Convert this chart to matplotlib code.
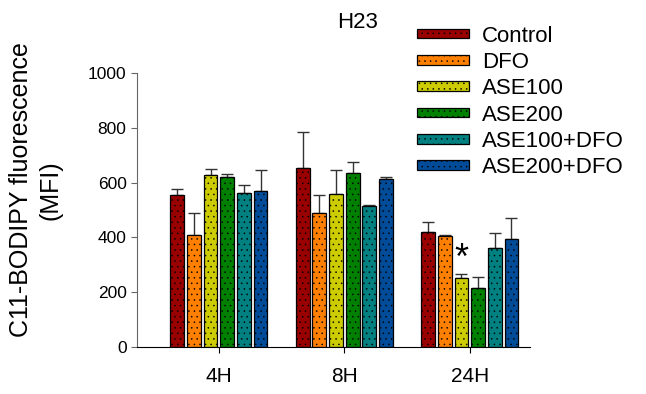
import numpy as np
import matplotlib
matplotlib.use("Agg")
import matplotlib.pyplot as plt

plt.rcParams['font.family'] = ['Liberation Sans', 'DejaVu Sans']
plt.rcParams['hatch.linewidth'] = 0.35

timepoints = ["4H", "8H", "24H"]
groups = ["Control", "DFO", "ASE100", "ASE200", "ASE100+DFO", "ASE200+DFO"]
colors = ["#990000", "#FF8000", "#CCCC00", "#008000", "#008080", "#004C99"]

means = {
    "Control":    [556, 654, 419],
    "DFO":        [409, 489, 406],
    "ASE100":     [627, 558, 253],
    "ASE200":     [621, 636, 215],
    "ASE100+DFO": [563, 515, 360],
    "ASE200+DFO": [568, 614, 395],
}
errors = {
    "Control":    [22, 130, 37],
    "DFO":        [80, 67, 3],
    "ASE100":     [21, 87, 12],
    "ASE200":     [9, 40, 42],
    "ASE100+DFO": [29, 2, 56],
    "ASE200+DFO": [79, 7, 75],
}

fig = plt.figure(figsize=(6.46, 3.94), dpi=100)
ax = fig.add_axes([0.212, 0.119, 0.608, 0.696])

x = np.arange(len(timepoints))
pitch = 0.133
width = 0.11
for i, g in enumerate(groups):
    pos = x + (i - 2.5) * pitch
    err = [np.zeros(len(x)), errors[g]]
    ax.bar(pos, means[g], width, color=colors[i], edgecolor="black",
           linewidth=0.9, hatch="...", label=g, zorder=2)
    ax.errorbar(pos, means[g], yerr=err, fmt="none", ecolor="#333333",
                elinewidth=1, capsize=4, capthick=1, zorder=1)

# significance marker on ASE100 at 24H
ax.text(x[2] + (2 - 2.5) * pitch, means["ASE100"][2] + errors["ASE100"][2] - 10, "*",
        ha="center", va="bottom", fontsize=26)

ax.set_ylim(0, 1000)
ax.set_yticks(range(0, 1001, 200))
ax.set_xlim(-0.653, 2.478)
ax.set_xticks(x)
ax.set_xticklabels(timepoints, fontsize=15)
ax.tick_params(axis="y", labelsize=12.5, direction="out", length=4, color="#666666")
ax.tick_params(axis="x", direction="out", length=4, pad=10)
ax.spines["top"].set_visible(False)
ax.spines["right"].set_visible(False)
ax.spines["left"].set_color("#666666")
ax.set_ylabel("C11-BODIPY fluorescence\n(MFI)", fontsize=18, linespacing=1.3)
ax.yaxis.set_label_coords(-0.19, 0.573)
fig.text(0.553, 0.942, "H23", ha="center", va="center", fontsize=16)

fig.legend(loc="upper left", bbox_to_anchor=(0.645, 0.935), frameon=False,
           fontsize=16, handlelength=2.35, handleheight=0.3, handletextpad=0.6,
           labelspacing=0.24, borderpad=0, borderaxespad=0)

fig.savefig("out.png", dpi=100)
